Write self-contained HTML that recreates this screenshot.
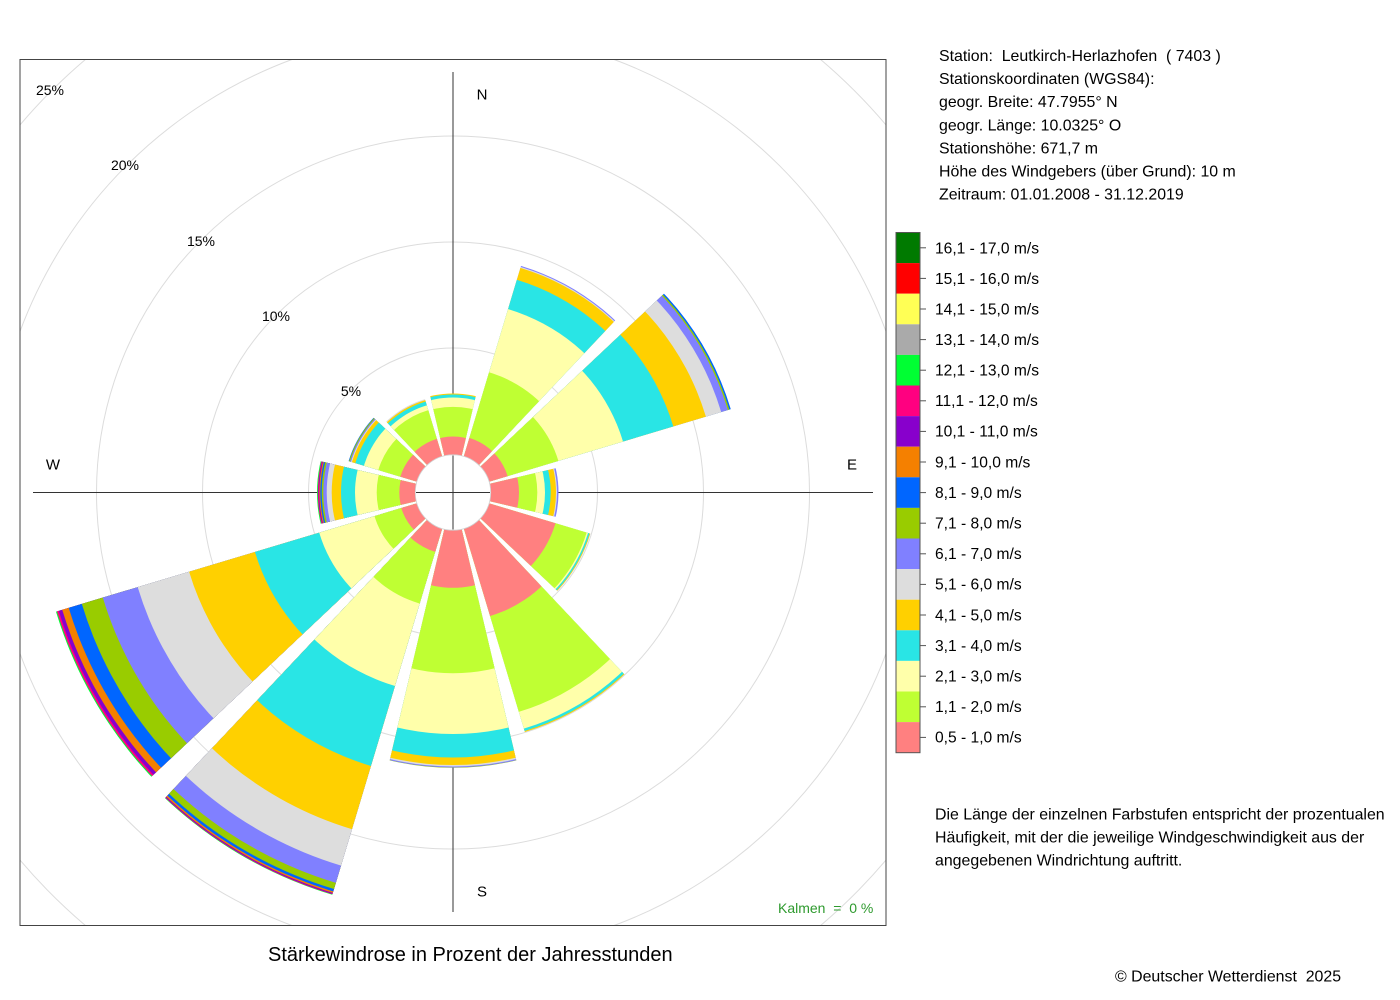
<!DOCTYPE html>
<html><head><meta charset="utf-8"><style>
html,body{margin:0;padding:0;background:#fff;width:1400px;height:1000px;overflow:hidden;}
svg{display:block;font-family:"Liberation Sans",Arial,sans-serif;}
</style></head><body>
<svg width="1400" height="1000" viewBox="0 0 1400 1000" xmlns="http://www.w3.org/2000/svg">
<defs>
<clipPath id="s0"><polygon points="0,0 -101.2,-428.2 101.2,-428.2"/></clipPath>
<clipPath id="s30"><polygon points="0,0 126.5,-421.4 301.8,-320.2"/></clipPath>
<clipPath id="s60"><polygon points="0,0 320.2,-301.8 421.4,-126.5"/></clipPath>
<clipPath id="s90"><polygon points="0,0 428.2,-101.2 428.2,101.2"/></clipPath>
<clipPath id="s120"><polygon points="0,0 421.4,126.5 320.2,301.8"/></clipPath>
<clipPath id="s150"><polygon points="0,0 301.8,320.2 126.5,421.4"/></clipPath>
<clipPath id="s180"><polygon points="0,0 101.2,428.2 -101.2,428.2"/></clipPath>
<clipPath id="s210"><polygon points="0,0 -126.5,421.4 -301.8,320.2"/></clipPath>
<clipPath id="s240"><polygon points="0,0 -320.2,301.8 -421.4,126.5"/></clipPath>
<clipPath id="s270"><polygon points="0,0 -428.2,101.2 -428.2,-101.2"/></clipPath>
<clipPath id="s300"><polygon points="0,0 -421.4,-126.5 -320.2,-301.8"/></clipPath>
<clipPath id="s330"><polygon points="0,0 -301.8,-320.2 -126.5,-421.4"/></clipPath>
</defs>
<rect width="1400" height="1000" fill="#fff"/>
<!-- rings -->
<g fill="none" stroke="#dcdcdc" stroke-width="1">
<circle cx="453" cy="492.5" r="144.5"/>
<circle cx="453" cy="492.5" r="250.5"/>
<circle cx="453" cy="492.5" r="356.5"/>
<path d="M20 331.4 A462 462 0 0 1 291.9 59.5 M614.1 59.5 A462 462 0 0 1 886 331.4 M886 653.6 A462 462 0 0 1 614.1 925.5 M291.9 925.5 A462 462 0 0 1 20 653.6"/>
<path d="M20 124.9 A568 568 0 0 1 85.4 59.5 M820.6 59.5 A568 568 0 0 1 886 124.9 M886 860.1 A568 568 0 0 1 820.6 925.5 M85.4 925.5 A568 568 0 0 1 20 860.1"/>
</g>
<!-- axes -->
<line x1="453" y1="72" x2="453" y2="912" stroke="#333" stroke-width="1"/>
<line x1="33" y1="492.5" x2="873" y2="492.5" stroke="#333" stroke-width="1"/>
<g transform="translate(453 492.5)">
<g clip-path="url(#s0)">
<circle r="99" fill="#FFD000"/><circle r="98" fill="#29E5E5"/><circle r="95" fill="#FFFFAA"/><circle r="85.6" fill="#BFFF33"/><circle r="56" fill="#FF8080"/>
</g>
<g clip-path="url(#s30)">
<circle r="236.5" fill="#8080FF"/><circle r="235.5" fill="#DDDDDD"/><circle r="234.5" fill="#FFD000"/><circle r="222" fill="#29E5E5"/><circle r="191.5" fill="#FFFFAA"/><circle r="125.5" fill="#BFFF33"/><circle r="57" fill="#FF8080"/>
</g>
<g clip-path="url(#s60)">
<circle r="290" fill="#0066FF"/><circle r="288.5" fill="#99CC00"/><circle r="287" fill="#8080FF"/><circle r="280" fill="#DDDDDD"/><circle r="264" fill="#FFD000"/><circle r="230" fill="#29E5E5"/><circle r="177.5" fill="#FFFFAA"/><circle r="110" fill="#BFFF33"/><circle r="57" fill="#FF8080"/>
</g>
<g clip-path="url(#s90)">
<circle r="105.5" fill="#8080FF"/><circle r="104" fill="#DDDDDD"/><circle r="103" fill="#FFD000"/><circle r="97.7" fill="#29E5E5"/><circle r="92" fill="#FFFFAA"/><circle r="84.3" fill="#BFFF33"/><circle r="66" fill="#FF8080"/>
</g>
<g clip-path="url(#s120)">
<circle r="143.6" fill="#DDDDDD"/><circle r="143.2" fill="#FFD000"/><circle r="142.5" fill="#29E5E5"/><circle r="141" fill="#FFFFAA"/><circle r="139.5" fill="#BFFF33"/><circle r="107" fill="#FF8080"/>
</g>
<g clip-path="url(#s150)">
<circle r="250.5" fill="#DDDDDD"/><circle r="250" fill="#FFD000"/><circle r="249" fill="#29E5E5"/><circle r="246.5" fill="#FFFFAA"/><circle r="229" fill="#BFFF33"/><circle r="129" fill="#FF8080"/>
</g>
<g clip-path="url(#s180)">
<circle r="275.3" fill="#99CC00"/><circle r="275" fill="#8080FF"/><circle r="274" fill="#DDDDDD"/><circle r="272.5" fill="#FFD000"/><circle r="265" fill="#29E5E5"/><circle r="241.5" fill="#FFFFAA"/><circle r="180.7" fill="#BFFF33"/><circle r="95.3" fill="#FF8080"/>
</g>
<g clip-path="url(#s210)">
<circle r="420" fill="#00FF33"/><circle r="419.5" fill="#FF0080"/><circle r="419" fill="#8800CC"/><circle r="418" fill="#F58000"/><circle r="416.5" fill="#0066FF"/><circle r="414" fill="#99CC00"/><circle r="407.5" fill="#8080FF"/><circle r="389.5" fill="#DDDDDD"/><circle r="351.5" fill="#FFD000"/><circle r="285.5" fill="#29E5E5"/><circle r="202" fill="#FFFFAA"/><circle r="116" fill="#BFFF33"/><circle r="62" fill="#FF8080"/>
</g>
<g clip-path="url(#s240)">
<circle r="414.5" fill="#00FF33"/><circle r="413.5" fill="#FF0080"/><circle r="411.6" fill="#8800CC"/><circle r="408" fill="#F58000"/><circle r="401.2" fill="#0066FF"/><circle r="387.5" fill="#99CC00"/><circle r="365.6" fill="#8080FF"/><circle r="329.2" fill="#DDDDDD"/><circle r="275.5" fill="#FFD000"/><circle r="206.8" fill="#29E5E5"/><circle r="139.7" fill="#FFFFAA"/><circle r="82" fill="#BFFF33"/><circle r="54" fill="#FF8080"/>
</g>
<g clip-path="url(#s270)">
<circle r="136" fill="#00FF33"/><circle r="135.2" fill="#FF0080"/><circle r="134.5" fill="#8800CC"/><circle r="133.7" fill="#F58000"/><circle r="132.7" fill="#0066FF"/><circle r="131.3" fill="#99CC00"/><circle r="129.7" fill="#8080FF"/><circle r="126.3" fill="#DDDDDD"/><circle r="121.3" fill="#FFD000"/><circle r="112" fill="#29E5E5"/><circle r="98" fill="#FFFFAA"/><circle r="76.3" fill="#BFFF33"/><circle r="53.7" fill="#FF8080"/>
</g>
<g clip-path="url(#s300)">
<circle r="109" fill="#0066FF"/><circle r="108.5" fill="#99CC00"/><circle r="107.5" fill="#8080FF"/><circle r="106.5" fill="#DDDDDD"/><circle r="105.5" fill="#FFD000"/><circle r="102" fill="#29E5E5"/><circle r="93" fill="#FFFFAA"/><circle r="78" fill="#BFFF33"/><circle r="55" fill="#FF8080"/>
</g>
<g clip-path="url(#s330)">
<circle r="97.5" fill="#DDDDDD"/><circle r="96.5" fill="#FFD000"/><circle r="95" fill="#29E5E5"/><circle r="91" fill="#FFFFAA"/><circle r="86" fill="#BFFF33"/><circle r="56" fill="#FF8080"/>
</g>
<circle r="37.7" fill="#fff" stroke="#d0d0d0" stroke-width="0.8"/>
<line x1="0" y1="-37" x2="0" y2="37" stroke="#333" stroke-width="1"/>
<line x1="-37" y1="0" x2="37" y2="0" stroke="#333" stroke-width="1"/>
</g>
<!-- ring labels -->
<g font-size="14" fill="#000" text-anchor="middle">
<text x="50" y="95">25%</text>
<text x="125" y="170">20%</text>
<text x="201" y="246">15%</text>
<text x="276" y="321">10%</text>
<text x="351" y="396">5%</text>
</g>
<g font-size="15" fill="#000" text-anchor="middle">
<text x="482" y="99.5">N</text>
<text x="852" y="469.5">E</text>
<text x="482" y="896.5">S</text>
<text x="53" y="469.5">W</text>
</g>
<text x="778" y="913" font-size="14" fill="#2E9A2E">Kalmen&#160; =&#160; 0 %</text>
<!-- box -->
<rect x="20" y="59.5" width="866" height="866" fill="none" stroke="#444" stroke-width="1"/>
<!-- title -->
<text x="268" y="961" font-size="20" fill="#000">Stärkewindrose in Prozent der Jahresstunden</text>
<!-- station info -->
<g font-size="15.9" fill="#000">
<text x="939" y="61">Station:&#160; Leutkirch-Herlazhofen&#160; ( 7403 )</text>
<text x="939" y="84">Stationskoordinaten (WGS84):</text>
<text x="939" y="107">geogr. Breite: 47.7955° N</text>
<text x="939" y="130.5">geogr. Länge: 10.0325° O</text>
<text x="939" y="153.5">Stationshöhe: 671,7 m</text>
<text x="939" y="176.5">Höhe des Windgebers (über Grund): 10 m</text>
<text x="939" y="199.5">Zeitraum: 01.01.2008 - 31.12.2019</text>
</g>
<!-- legend -->
<g stroke="none">
<rect x="896" y="232.5" width="24" height="30.6" fill="#007A00"/>
<rect x="896" y="263.1" width="24" height="30.6" fill="#FF0000"/>
<rect x="896" y="293.7" width="24" height="30.6" fill="#FFFF55"/>
<rect x="896" y="324.3" width="24" height="30.6" fill="#AAAAAA"/>
<rect x="896" y="354.9" width="24" height="30.6" fill="#00FF33"/>
<rect x="896" y="385.5" width="24" height="30.6" fill="#FF0080"/>
<rect x="896" y="416.1" width="24" height="30.6" fill="#8800CC"/>
<rect x="896" y="446.7" width="24" height="30.6" fill="#F58000"/>
<rect x="896" y="477.3" width="24" height="30.6" fill="#0066FF"/>
<rect x="896" y="507.9" width="24" height="30.6" fill="#99CC00"/>
<rect x="896" y="538.5" width="24" height="30.6" fill="#8080FF"/>
<rect x="896" y="569.1" width="24" height="30.6" fill="#DDDDDD"/>
<rect x="896" y="599.7" width="24" height="30.6" fill="#FFD000"/>
<rect x="896" y="630.3" width="24" height="30.6" fill="#29E5E5"/>
<rect x="896" y="660.9" width="24" height="30.6" fill="#FFFFAA"/>
<rect x="896" y="691.5" width="24" height="30.6" fill="#BFFF33"/>
<rect x="896" y="722.1" width="24" height="30.6" fill="#FF8080"/>
</g>
<rect x="896" y="232.5" width="24" height="520.2" fill="none" stroke="#555" stroke-width="1"/>
<g stroke="#555" stroke-width="1">
<line x1="920" y1="247.8" x2="926" y2="247.8"/>
<line x1="920" y1="278.4" x2="926" y2="278.4"/>
<line x1="920" y1="309" x2="926" y2="309"/>
<line x1="920" y1="339.6" x2="926" y2="339.6"/>
<line x1="920" y1="370.2" x2="926" y2="370.2"/>
<line x1="920" y1="400.8" x2="926" y2="400.8"/>
<line x1="920" y1="431.4" x2="926" y2="431.4"/>
<line x1="920" y1="462" x2="926" y2="462"/>
<line x1="920" y1="492.6" x2="926" y2="492.6"/>
<line x1="920" y1="523.2" x2="926" y2="523.2"/>
<line x1="920" y1="553.8" x2="926" y2="553.8"/>
<line x1="920" y1="584.4" x2="926" y2="584.4"/>
<line x1="920" y1="615" x2="926" y2="615"/>
<line x1="920" y1="645.6" x2="926" y2="645.6"/>
<line x1="920" y1="676.2" x2="926" y2="676.2"/>
<line x1="920" y1="706.8" x2="926" y2="706.8"/>
<line x1="920" y1="737.4" x2="926" y2="737.4"/>
</g>
<g font-size="15.6" fill="#000">
<text x="935" y="253.5">16,1 - 17,0 m/s</text>
<text x="935" y="284">15,1 - 16,0 m/s</text>
<text x="935" y="314.5">14,1 - 15,0 m/s</text>
<text x="935" y="345">13,1 - 14,0 m/s</text>
<text x="935" y="375.5">12,1 - 13,0 m/s</text>
<text x="935" y="406">11,1 - 12,0 m/s</text>
<text x="935" y="436.5">10,1 - 11,0 m/s</text>
<text x="935" y="467.5">9,1 - 10,0 m/s</text>
<text x="935" y="498">8,1 - 9,0 m/s</text>
<text x="935" y="528.5">7,1 - 8,0 m/s</text>
<text x="935" y="559">6,1 - 7,0 m/s</text>
<text x="935" y="589.5">5,1 - 6,0 m/s</text>
<text x="935" y="620.5">4,1 - 5,0 m/s</text>
<text x="935" y="651">3,1 - 4,0 m/s</text>
<text x="935" y="681.5">2,1 - 3,0 m/s</text>
<text x="935" y="712">1,1 - 2,0 m/s</text>
<text x="935" y="742.5">0,5 - 1,0 m/s</text>
</g>
<!-- note -->
<g font-size="15.9" fill="#000">
<text x="935" y="819.5">Die Länge der einzelnen Farbstufen entspricht der prozentualen</text>
<text x="935" y="842.5">Häufigkeit, mit der die jeweilige Windgeschwindigkeit aus der</text>
<text x="935" y="865.5">angegebenen Windrichtung auftritt.</text>
<text x="1115" y="981.5">© Deutscher Wetterdienst&#160; 2025</text>
</g>
</svg>
</body></html>
